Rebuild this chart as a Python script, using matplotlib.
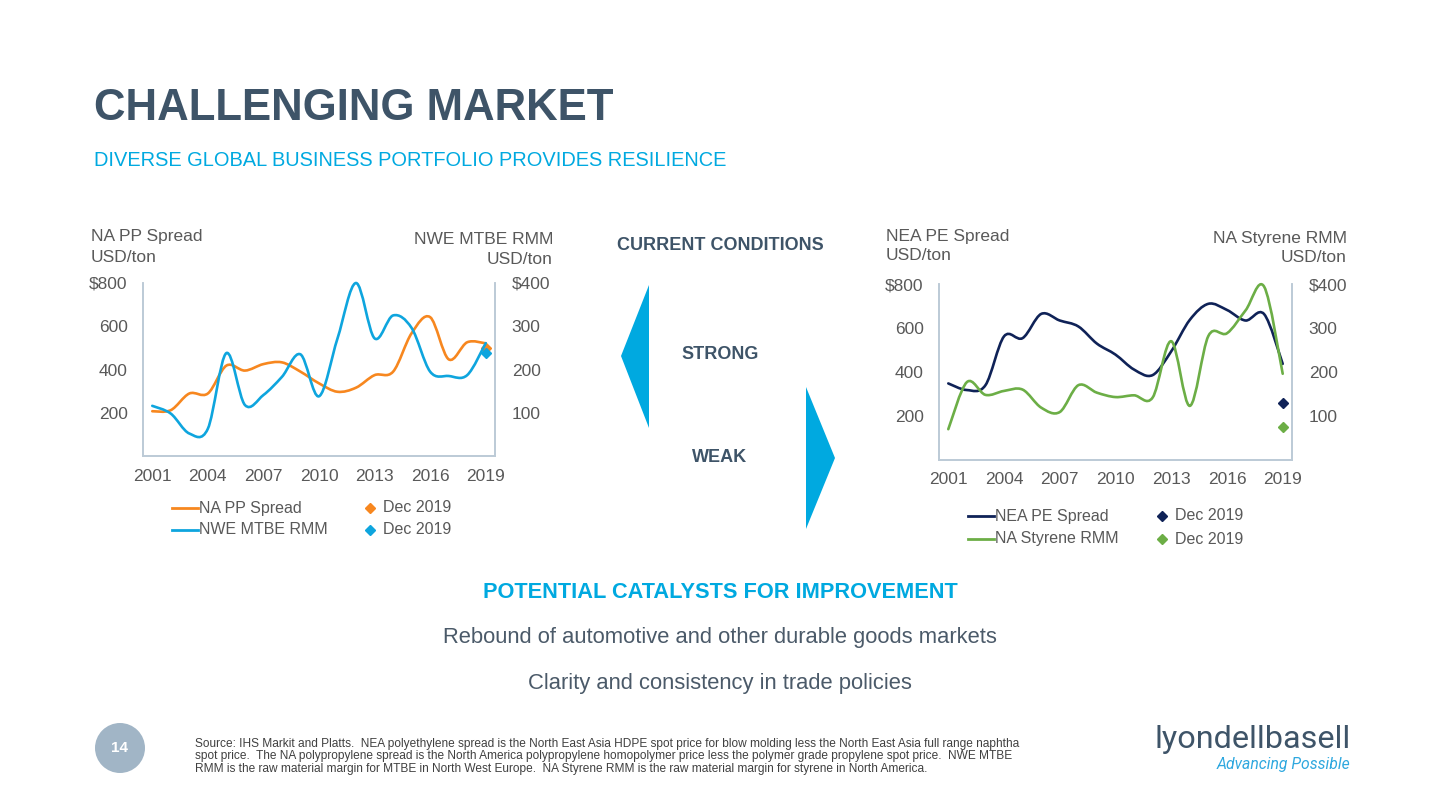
import matplotlib
matplotlib.use("Agg")
import matplotlib.pyplot as plt
from matplotlib.path import Path
from matplotlib.patches import PathPatch, Polygon, Ellipse
from matplotlib.lines import Line2D

plt.rcParams['font.family'] = ['Liberation Sans', 'DejaVu Sans']

# ---- data ----
years = list(range(2001, 2020))
year_ticks = [2001, 2004, 2007, 2010, 2013, 2016, 2019]

na_pp_spread = [207, 212, 289, 289, 418, 395, 425, 433, 390, 336, 297, 316, 374, 390, 568, 642, 447, 526, 521]
nwe_mtbe_rmm = [116, 98, 52, 63, 238, 118, 141, 183, 235, 138, 272, 400, 272, 325, 296, 195, 185, 187, 261]
nea_pe_spread = [348, 318, 340, 562, 554, 664, 634, 607, 529, 479, 411, 386, 494, 637, 710, 682, 634, 663, 437]
na_styrene_rmm = [70, 177, 148, 157, 160, 119, 109, 170, 153, 143, 147, 142, 270, 123, 282, 288, 340, 394, 196]

dec_year = 2019
dec_na_pp = 501
dec_nwe_mtbe = 239
dec_nea_pe = 261
dec_na_styrene = 76

left_ticks = [200, 400, 600, 800]
left_labels = ["200", "400", "600", "$800"]
right_ticks = [100, 200, 300, 400]
right_labels = ["100", "200", "300", "$400"]

# colours
SLATE = "#3e5468"
CYAN = "#00a9e0"
GREY = "#595959"
BODY = "#4b5a69"
SPINE = "#bccad6"
ORANGE = "#f7871f"
BLUE = "#0ea5de"
NAVY = "#0f2257"
GREEN = "#6cae46"

W, H = 1440, 810
fig = plt.figure(figsize=(W / 100, H / 100), dpi=100)


def fx(x):
    return x / W


def fy(y):
    return 1 - y / H


def smooth(ax, x, y, color):
    # excel-like smoothed line (catmull-rom as bezier segments)
    n = len(x)
    verts = [(x[0], y[0])]
    codes = [Path.MOVETO]
    for i in range(n - 1):
        i0 = max(i - 1, 0)
        i3 = min(i + 2, n - 1)
        c1 = (x[i] + (x[i + 1] - x[i0]) / 6, y[i] + (y[i + 1] - y[i0]) / 6)
        c2 = (x[i + 1] - (x[i3] - x[i]) / 6, y[i + 1] - (y[i3] - y[i]) / 6)
        verts += [c1, c2, (x[i + 1], y[i + 1])]
        codes += [Path.CURVE4] * 3
    ax.add_patch(PathPatch(Path(verts, codes), fc="none", ec=color, lw=1.9,
                           capstyle="round", joinstyle="round", clip_on=False))


def make_chart(rect, left_series, right_series, left_dec, right_dec, cols):
    ax = fig.add_axes(rect)
    ax2 = ax.twinx()
    for a in (ax, ax2):
        a.set_xlim(2000.5, 2019.5)
        for s in a.spines.values():
            s.set_color(SPINE)
            s.set_linewidth(1.2)
        a.spines["top"].set_visible(False)
        a.tick_params(length=0, labelsize=12.5, labelcolor=GREY)
    ax.set_ylim(0, 800)
    ax2.set_ylim(0, 400)
    ax.set_yticks(left_ticks, left_labels)
    ax2.set_yticks(right_ticks, right_labels)
    ax.tick_params(axis="y", pad=11)
    ax2.tick_params(axis="y", pad=12)
    ax.set_xticks(year_ticks, [str(t) for t in year_ticks])
    ax.tick_params(axis="x", pad=9)
    ax.patch.set_visible(False)
    smooth(ax, years, left_series, cols[0])
    smooth(ax2, years, right_series, cols[1])
    ax.plot([dec_year], [left_dec], marker="D", ms=5, color=cols[0], ls="none", clip_on=False)
    ax2.plot([dec_year], [right_dec], marker="D", ms=5, color=cols[1], ls="none", clip_on=False)
    return ax, ax2


def legend(x0, y0, dy, xm, names, cols):
    for k, (name, c) in enumerate(zip(names, cols)):
        y = y0 + k * dy
        fig.add_artist(Line2D([fx(x0), fx(x0 + 26)], [fy(y), fy(y)], color=c, lw=2))
        fig.text(fx(x0 + 27), fy(y), name, fontsize=11.5, color=GREY, va="center")
        fig.add_artist(Line2D([fx(xm)], [fy(y)], marker="D", ms=5, color=c, ls="none"))
        fig.text(fx(xm + 13), fy(y), "Dec 2019", fontsize=11.5, color=GREY, va="center")


# ---- header ----
fig.text(fx(94), fy(108), "CHALLENGING MARKET", fontsize=31.5, fontweight="bold",
         color=SLATE, va="center")
fig.text(fx(94), fy(160), "DIVERSE GLOBAL BUSINESS PORTFOLIO PROVIDES RESILIENCE",
         fontsize=14.4, color=CYAN, va="center")

# ---- left chart ----
make_chart([fx(143), fy(456), fx(495) - fx(143), fy(283) - fy(456)],
           na_pp_spread, nwe_mtbe_rmm, dec_na_pp, dec_nwe_mtbe, (ORANGE, BLUE))
fig.text(fx(91), fy(237), "NA PP Spread", fontsize=12.5, color=GREY, va="center")
fig.text(fx(91), fy(257), "USD/ton", fontsize=12.5, color=GREY, va="center")
fig.text(fx(553), fy(239), "NWE MTBE RMM", fontsize=12.5, color=GREY, va="center", ha="right")
fig.text(fx(553), fy(259), "USD/ton", fontsize=12.5, color=GREY, va="center", ha="right")
legend(172, 508, 22, 370, ["NA PP Spread", "NWE MTBE RMM"], [ORANGE, BLUE])

# ---- right chart ----
make_chart([fx(939), fy(460), fx(1292) - fx(939), fy(284) - fy(460)],
           nea_pe_spread, na_styrene_rmm, dec_nea_pe, dec_na_styrene, (NAVY, GREEN))
fig.text(fx(886), fy(236), "NEA PE Spread", fontsize=12.5, color=GREY, va="center")
fig.text(fx(886), fy(256), "USD/ton", fontsize=12.5, color=GREY, va="center")
fig.text(fx(1347), fy(238), "NA Styrene RMM", fontsize=12.5, color=GREY, va="center", ha="right")
fig.text(fx(1347), fy(258), "USD/ton", fontsize=12.5, color=GREY, va="center", ha="right")
legend(968, 516, 23, 1162, ["NEA PE Spread", "NA Styrene RMM"], [NAVY, GREEN])

# ---- centre: current conditions ----
fig.text(fx(720), fy(246), "CURRENT CONDITIONS", fontsize=13, fontweight="bold",
         color=SLATE, ha="center", va="center")
fig.text(fx(720), fy(355), "STRONG", fontsize=13, fontweight="bold",
         color=SLATE, ha="center", va="center")
fig.text(fx(720), fy(458), "WEAK", fontsize=13, fontweight="bold",
         color=SLATE, ha="center", va="center")
fig.add_artist(Polygon([(fx(621), fy(356)), (fx(649), fy(285)), (fx(649), fy(428))],
                       closed=True, fc=CYAN, ec="none"))
fig.add_artist(Polygon([(fx(806), fy(387)), (fx(835), fy(458)), (fx(806), fy(529))],
                       closed=True, fc=CYAN, ec="none"))

# ---- catalysts ----
fig.text(fx(720), fy(592), "POTENTIAL CATALYSTS FOR IMPROVEMENT", fontsize=15.7,
         fontweight="bold", color=CYAN, ha="center", va="center")
fig.text(fx(720), fy(637), "Rebound of automotive and other durable goods markets",
         fontsize=15.8, color=BODY, ha="center", va="center")
fig.text(fx(720), fy(684), "Clarity and consistency in trade policies",
         fontsize=15.8, color=BODY, ha="center", va="center")

# ---- footer ----
fig.add_artist(Ellipse((fx(120), fy(748)), 50 / W, 50 / H, fc="#a1b5c6", ec="none"))
fig.text(fx(120), fy(748), "14", fontsize=11, fontweight="bold", color="white",
         ha="center", va="center")
source_lines = [
    "Source: IHS Markit and Platts.  NEA polyethylene spread is the North East Asia HDPE spot price for blow molding less the North East Asia full range naphtha",
    "spot price.  The NA polypropylene spread is the North America polypropylene homopolymer price less the polymer grade propylene spot price.  NWE MTBE",
    "RMM is the raw material margin for MTBE in North West Europe.  NA Styrene RMM is the raw material margin for styrene in North America.",
]
for k, line in enumerate(source_lines):
    fig.text(fx(195), fy(744 + 12.5 * k), line, fontsize=8.6, color="#404040", va="center")

fig.text(fx(1351), fy(740), "lyondellbasell", fontsize=23.3, color=SLATE, ha="right",
         va="center", family="Roboto")
fig.text(fx(1350), fy(764), "Advancing Possible", fontsize=11.3, color="#2fa8df", ha="right",
         va="center", family="Roboto", style="italic")

fig.savefig("out.png", dpi=100)
